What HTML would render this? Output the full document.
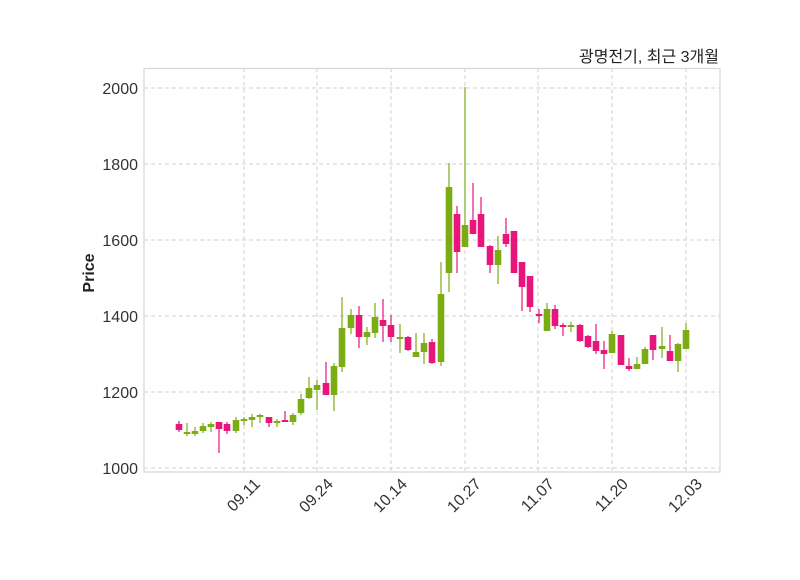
<!DOCTYPE html>
<html><head><meta charset="utf-8"><style>
html,body{margin:0;padding:0;background:#fff}
svg text{font-family:"Liberation Sans","Noto Sans CJK KR",sans-serif}
</style></head><body>
<svg id="s" width="800" height="575" xmlns="http://www.w3.org/2000/svg">
<rect width="800" height="575" fill="#fff"/>
<g stroke="#d2d2d2" stroke-dasharray="4,3" stroke-width="1">
<line x1="144" x2="720" y1="88" y2="88"/><line x1="144" x2="720" y1="164" y2="164"/>
<line x1="144" x2="720" y1="240" y2="240"/><line x1="144" x2="720" y1="316" y2="316"/>
<line x1="144" x2="720" y1="392" y2="392"/><line x1="144" x2="720" y1="468" y2="468"/>
<line x1="244" x2="244" y1="68" y2="472"/><line x1="317" x2="317" y1="68" y2="472"/>
<line x1="391" x2="391" y1="68" y2="472"/><line x1="465" x2="465" y1="68" y2="472"/>
<line x1="538" x2="538" y1="68" y2="472"/><line x1="612" x2="612" y1="68" y2="472"/>
<line x1="686" x2="686" y1="68" y2="472"/>
</g>
<rect x="144" y="68.5" width="576" height="403.5" fill="none" stroke="#d6d6d6" stroke-width="1.2"/>
<g id="c"></g>
<g font-size="16" fill="#333" text-anchor="end">
<text x="138" y="94">2000</text><text x="138" y="170">1800</text><text x="138" y="246">1600</text>
<text x="138" y="322">1400</text><text x="138" y="398">1200</text><text x="138" y="474">1000</text>
</g>
<g font-size="16" fill="#333" text-anchor="end">
<text transform="translate(261,485) rotate(-45)">09.11</text>
<text transform="translate(334,485) rotate(-45)">09.24</text>
<text transform="translate(408,485) rotate(-45)">10.14</text>
<text transform="translate(482,485) rotate(-45)">10.27</text>
<text transform="translate(555,485) rotate(-45)">11.07</text>
<text transform="translate(629,485) rotate(-45)">11.20</text>
<text transform="translate(703,485) rotate(-45)">12.03</text>
</g>
<text x="94" y="273" font-size="16" font-weight="bold" fill="#222" text-anchor="middle" transform="rotate(-90,94,273)">Price</text>
<text x="719" y="62" font-size="16" fill="#222" text-anchor="end">광명전기, 최근 3개월</text>
</svg>
<script>
var d=[
[179,'p',424,430,421,432],[187,'g',432,434,423,436],[195,'g',431,434,427,436],[203,'g',426,431,423,433],
[211,'g',424,427,422,432],[219,'p',422,429,422,453],[227,'p',424,431,422,434],[236,'g',420,431,417,433],
[244,'g',419,421,417,425],[252,'g',417,420,414,427],[260,'g',415,417,414,423],[269,'p',417,423,417,427],
[277,'g',421,423,419,427],[285,'p',420,422,411,422],[293,'g',415,422,413,425],[301,'g',399,413,394,415],
[309,'g',388,398,377,399],[317,'g',385,390,380,410],[326,'p',383,395,362,395],[334,'g',366,395,363,411],
[342,'g',328,367,297,372],[351,'g',315,328,309,334],[359,'p',315,337,306,348],[367,'g',332,337,327,345],
[375,'g',317,333,303,338],[383,'p',320,326,299,342],[391,'p',325,337,315,342],[400,'g',337,339,324,353],
[408,'p',337,350,336,351],[416,'g',352,357,333,357],[424,'g',343,352,333,364],[432,'p',342,363,339,364],
[441,'g',294,362,262,366],[449,'g',187,273,163,292],[457,'p',214,252,206,273],[465,'g',225,247,87,247],
[473,'p',220,234,183,234],[481,'p',214,247,197,247],[490,'p',246,265,245,273],[498,'g',250,265,236,284],
[506,'p',234,244,218,247],[514,'p',231,273,231,273],[522,'p',262,287,262,311],[530,'p',276,307,276,312],
[539,'p',314,316,309,323],[547,'g',309,331,303,331],[555,'p',309,326,305,329],[563,'p',325,327,323,336],
[571,'g',325,327,322,332],[580,'p',325,341,324,342],[588,'p',336,347,335,348],[596,'p',341,351,324,354],
[604,'p',350,354,341,369],[612,'g',334,353,331,353],[621,'p',335,365,335,365],[629,'p',366,369,358,371],
[637,'g',364,369,357,369],[645,'g',349,364,347,364],[653,'p',335,350,335,360],[662,'g',346,349,327,358],
[670,'p',351,361,335,361],[678,'g',344,361,343,372],[686,'g',330,349,323,349]];
var h='';d.forEach(function(c){var col=c[1]=='g'?'#7cac14':'#e8157b';
h+='<line x1="'+c[0]+'" x2="'+c[0]+'" y1="'+c[4]+'" y2="'+c[5]+'" stroke="'+col+'" stroke-width="1.2"/>';
h+='<rect x="'+(c[0]-3.3)+'" y="'+c[2]+'" width="6.6" height="'+Math.max(c[3]-c[2],1.5)+'" fill="'+col+'"/>';});
document.getElementById('c').innerHTML=h;
</script>
</body></html>
